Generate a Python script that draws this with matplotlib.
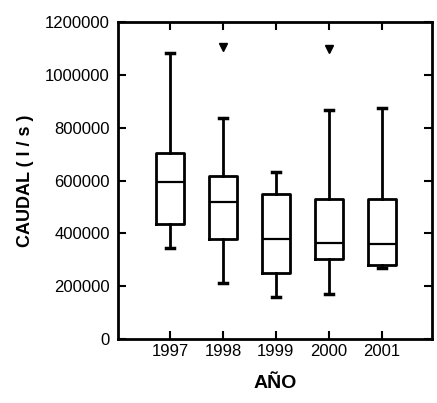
import matplotlib
matplotlib.use("Agg")
import matplotlib.pyplot as plt

# values (l/s)
years = ["1997", "1998", "1999", "2000", "2001"]
whislo = [344000, 212000, 159000, 170000, 270000]
q1 = [435000, 378000, 250000, 303000, 280000]
med = [594000, 518000, 378000, 363000, 359000]
q3 = [704000, 617000, 549000, 530000, 530000]
whishi = [1082000, 836000, 632000, 867000, 874000]
fliers = [[], [1105000], [], [1098000], []]

yticks = [0, 200000, 400000, 600000, 800000, 1000000, 1200000]

plt.rcParams['font.family'] = ['Liberation Sans', 'DejaVu Sans']

stats = []
for i in range(len(years)):
    stats.append(dict(label=years[i], whislo=whislo[i], q1=q1[i], med=med[i],
                      q3=q3[i], whishi=whishi[i], fliers=fliers[i]))

fig = plt.figure(figsize=(4.37, 4.03), dpi=100)
ax = fig.add_axes([0.270, 0.159, 0.719, 0.786])

pos = list(range(1, len(years) + 1))
ax.bxp(stats, positions=pos, widths=0.53, capwidths=0.15,
       boxprops=dict(color="black", linewidth=2),
       medianprops=dict(color="black", linewidth=1.6),
       whiskerprops=dict(color="black", linewidth=2),
       capprops=dict(color="black", linewidth=2.5),
       flierprops=dict(marker="v", markerfacecolor="black",
                       markeredgecolor="black", markersize=6))

ax.set_xlim(0.02, 5.95)
ax.set_ylim(0, 1200000)
ax.set_yticks(yticks)
ax.set_yticklabels([str(v) for v in yticks], fontsize=12)
ax.set_xticks(pos)
ax.set_xticklabels(years, fontsize=12)

ax.tick_params(direction="in", length=6, width=1.5, top=True, right=True)
ax.tick_params(axis="y", pad=6)
for s in ax.spines.values():
    s.set_linewidth(2)

ax.set_ylabel("CAUDAL ( l / s )", fontsize=13, fontweight="bold", labelpad=8)
ax.set_xlabel("AÑO", fontsize=14, fontweight="bold", labelpad=12)

fig.savefig("out.png", dpi=100)
